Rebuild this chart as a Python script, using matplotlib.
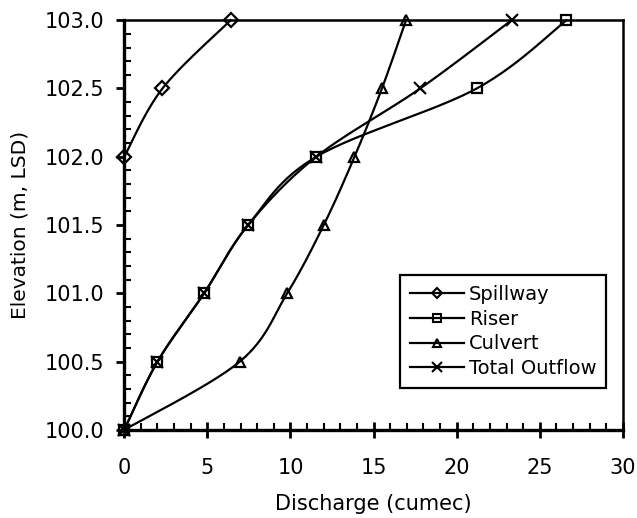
import matplotlib
matplotlib.use("Agg")
import matplotlib.pyplot as plt
from matplotlib.ticker import MultipleLocator, FormatStrFormatter
import numpy as np

plt.rcParams['font.family'] = ['DejaVu Sans']

elev = [100.0, 100.5, 101.0, 101.5, 102.0, 102.5, 103.0]
spill_elev = [102.0, 102.5, 103.0]
spillway = [0.0, 2.3, 6.4]
riser = [0.0, 2.0, 4.8, 7.45, 11.55, 21.2, 26.6]
culvert = [0.0, 6.95, 9.8, 12.0, 13.85, 15.5, 16.95]
total = [0.0, 2.0, 4.8, 7.45, 11.55, 17.8, 23.3]


def smooth(x, y, n=30):
    # Excel-style smoothed line: cubic bezier through points
    p = np.column_stack([x, y])
    pts = [p[0]]
    for i in range(len(p) - 1):
        p0 = p[i - 1] if i > 0 else p[i]
        p1, p2 = p[i], p[i + 1]
        p3 = p[i + 2] if i + 2 < len(p) else p[i + 1]
        c1 = p1 + (p2 - p0) / 6.0
        c2 = p2 - (p3 - p1) / 6.0
        t = np.linspace(0, 1, n)[1:, None]
        seg = ((1 - t) ** 3) * p1 + 3 * ((1 - t) ** 2) * t * c1 + 3 * (1 - t) * t ** 2 * c2 + t ** 3 * p2
        pts.extend(seg)
    pts = np.array(pts)
    return pts[:, 0], pts[:, 1]


fig = plt.figure(figsize=(6.37, 5.18), dpi=100)
ax = fig.add_axes([0.195, 0.170, 0.783, 0.791])

series = [
    ("Spillway", spillway, spill_elev, "D", 7),
    ("Riser", riser, elev, "s", 7.5),
    ("Culvert", culvert, elev, "^", 7.5),
    ("Total Outflow", total, elev, "x", 9),
]
for name, xs, ys, mk, ms in series:
    sx, sy = smooth(xs, ys)
    ax.plot(sx, sy, color="black", lw=1.6, clip_on=False)
    ax.plot(xs, ys, linestyle="none", marker=mk, markersize=ms, mfc="none",
            mec="black", mew=1.6, clip_on=False)
    ax.plot([], [], color="black", lw=1.6, marker=mk, markersize=ms - 1.5,
            mfc="none", mec="black", mew=1.5, label=name)

ax.set_xlim(0, 30)
ax.set_ylim(100, 103)
ax.xaxis.set_major_locator(MultipleLocator(5))
ax.xaxis.set_minor_locator(MultipleLocator(1))
ax.yaxis.set_major_locator(MultipleLocator(0.5))
ax.yaxis.set_minor_locator(MultipleLocator(0.1))
ax.yaxis.set_major_formatter(FormatStrFormatter("%.1f"))

ax.tick_params(axis="x", which="major", direction="inout", length=11, width=2,
               labelsize=15, pad=15)
ax.tick_params(axis="x", which="minor", direction="in", length=5, width=1.5)
ax.tick_params(axis="y", which="major", direction="out", length=6, width=2,
               labelsize=15, pad=8)
ax.tick_params(axis="y", which="minor", direction="in", length=5, width=1.5)

for side in ["left", "bottom"]:
    ax.spines[side].set_linewidth(2.4)
for side in ["top", "right"]:
    ax.spines[side].set_linewidth(1.8)

ax.set_xlabel("Discharge (cumec)", fontsize=15, labelpad=11)
ax.set_ylabel("Elevation (m, LSD)", fontsize=14.5, labelpad=11)

leg = ax.legend(loc="upper left", bbox_to_anchor=(0.553, 0.378), fontsize=14,
                frameon=True, fancybox=False, edgecolor="black", framealpha=1,
                handlelength=2.8, handletextpad=0.25, labelspacing=0.3,
                borderpad=0.5, borderaxespad=0)
leg.get_frame().set_linewidth(1.6)

fig.savefig("out.png", dpi=100)
